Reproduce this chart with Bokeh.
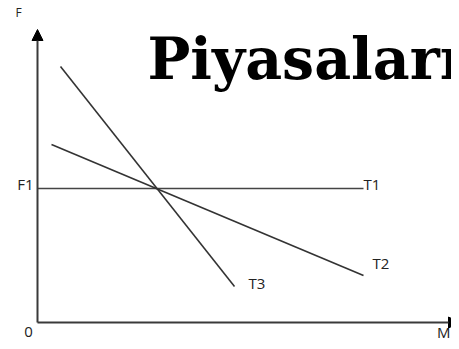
from bokeh.plotting import figure
from bokeh.models import Range1d, Arrow, NormalHead, ColumnDataSource
from bokeh.core.properties import value
from bokeh.embed import file_html
from bokeh.resources import INLINE

# Data (chart units, origin at 0)
t1_x = [0, 326]
t1_y = [134, 134]
t2_x = [14, 326]
t2_y = [178, 47]
t3_x = [23, 197]
t3_y = [256, 36]
x_axis_end = 422
y_axis_end = 293

label_text = ["T1", "T2", "T3"]
label_x = [326, 335, 211]
label_y = [139, 60, 40]

title_text = "Piyasaları"

p = figure(width=451, height=341, output_backend="svg", toolbar_location=None,
           x_range=Range1d(-37, 414), y_range=Range1d(-19, 322),
           min_border=0, outline_line_color=None)
p.axis.visible = False
p.grid.visible = False
p.background_fill_color = "white"

# axes with arrows
p.add_layout(Arrow(x_start=0, y_start=0, x_end=x_axis_end, y_end=0,
                   line_color="#3a3a3a", line_width=2,
                   end=NormalHead(size=11, fill_color="black", line_color="black")))
p.add_layout(Arrow(x_start=0, y_start=0, x_end=0, y_end=y_axis_end,
                   line_color="#3a3a3a", line_width=2,
                   end=NormalHead(size=11, fill_color="black", line_color="black")))

# lines
p.line(t1_x, t1_y, line_color="#444444", line_width=1.6)
p.line(t2_x, t2_y, line_color="#333333", line_width=1.6)
p.line(t3_x, t3_y, line_color="#333333", line_width=1.6)

# labels
src = ColumnDataSource(dict(x=label_x, y=label_y, t=label_text))
p.text(x="x", y="y", text="t", source=src, text_font=value("Open Sans"),
       text_font_size="15px", text_color="#222222", text_baseline="middle",
       text_align="left")

p.text(x=[-4], y=[139], text=["F1"], text_font=value("Open Sans"),
       text_font_size="15px", text_color="#222222", text_baseline="middle",
       text_align="right")
p.text(x=[-9], y=[-9], text=["0"], text_font=value("Open Sans"),
       text_font_size="15px", text_color="#222222", text_baseline="middle",
       text_align="center")
p.text(x=[413], y=[-9], text=["M"], text_font=value("Open Sans"),
       text_font_size="15px", text_color="#222222", text_baseline="middle",
       text_align="right")
p.text(x=[-19], y=[310], text=["F"], text_font=value("Open Sans"),
       text_font_size="12px", text_color="#222222", text_baseline="middle",
       text_align="center")

# title
p.text(x=[110], y=[264], text=[title_text], text_font=value("DejaVu Serif"),
       text_font_style="bold", text_font_size="57px", text_color="black",
       text_baseline="alphabetic", text_align="left")

open("out.html", "w").write(file_html(p, INLINE))
